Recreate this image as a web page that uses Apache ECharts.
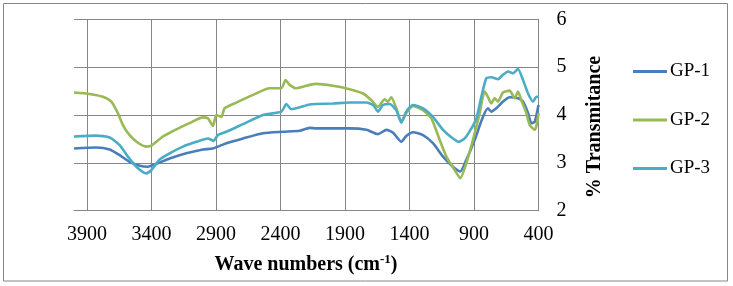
<!DOCTYPE html>
<html><head><meta charset="utf-8">
<script src="https://cdn.jsdelivr.net/npm/echarts@6/dist/echarts.min.js"></script>
<style>html,body{margin:0;padding:0;background:#fff}#c{width:733px;height:286px}</style>
</head><body><div id="c"></div>
<script>
const xTicks = [3900, 3400, 2900, 2400, 1900, 1400, 900, 400];
const yTicks = [2, 3, 4, 5, 6];
const seriesNames = ['GP-1', 'GP-2', 'GP-3'];

const gp1Wn = [4000, 3827, 3724, 3646, 3569, 3491, 3427, 3362, 3259, 3130, 3001, 2923, 2819, 2690, 2535, 2381, 2251, 2174, 2122, 1993, 1864, 1734, 1644, 1579, 1527, 1463, 1425, 1373, 1295, 1218, 1140, 1063, 1006, 960, 894, 835, 792, 766, 727, 675, 624, 559, 520, 481, 455, 429, 400];
const gp1T = [3.30, 3.32, 3.28, 3.16, 3.02, 2.94, 2.92, 2.98, 3.09, 3.20, 3.28, 3.30, 3.41, 3.51, 3.62, 3.65, 3.67, 3.73, 3.72, 3.72, 3.72, 3.69, 3.60, 3.69, 3.63, 3.44, 3.56, 3.64, 3.58, 3.41, 3.13, 2.92, 2.82, 3.06, 3.48, 3.93, 4.14, 4.07, 4.14, 4.28, 4.37, 4.35, 4.28, 4.04, 3.83, 3.86, 4.21];

const gp2Wn = [4000, 3879, 3776, 3711, 3660, 3621, 3569, 3505, 3440, 3400, 3311, 3207, 3104, 3001, 2962, 2923, 2897, 2858, 2833, 2742, 2613, 2484, 2393, 2360, 2329, 2277, 2174, 2122, 1993, 1864, 1760, 1695, 1644, 1592, 1567, 1541, 1502, 1463, 1425, 1373, 1295, 1230, 1166, 1114, 1050, 1006, 960, 908, 856, 818, 792, 766, 740, 714, 675, 624, 585, 559, 533, 494, 468, 429, 411, 400];
const gp2T = [4.47, 4.44, 4.38, 4.28, 4.04, 3.79, 3.58, 3.42, 3.34, 3.36, 3.55, 3.70, 3.83, 3.95, 3.93, 3.77, 4.00, 3.96, 4.14, 4.26, 4.42, 4.56, 4.56, 4.73, 4.63, 4.56, 4.63, 4.65, 4.61, 4.54, 4.45, 4.31, 4.17, 4.33, 4.28, 4.37, 4.14, 3.86, 4.04, 4.19, 4.10, 3.93, 3.48, 3.13, 2.85, 2.68, 2.99, 3.48, 4.04, 4.49, 4.38, 4.24, 4.35, 4.28, 4.47, 4.51, 4.35, 4.49, 4.31, 4.04, 3.79, 3.69, 3.83, 4.04];

const gp3Wn = [4000, 3827, 3724, 3646, 3582, 3517, 3440, 3400, 3336, 3259, 3156, 3052, 2962, 2918, 2885, 2819, 2690, 2535, 2393, 2354, 2316, 2174, 2122, 1993, 1864, 1734, 1682, 1644, 1605, 1553, 1502, 1463, 1425, 1373, 1295, 1218, 1140, 1063, 1017, 972, 920, 881, 843, 804, 766, 714, 675, 636, 598, 559, 520, 481, 442, 416, 400];
const gp3T = [3.55, 3.57, 3.53, 3.37, 3.13, 2.92, 2.78, 2.85, 3.07, 3.20, 3.34, 3.44, 3.51, 3.46, 3.58, 3.65, 3.81, 4.00, 4.07, 4.23, 4.12, 4.22, 4.23, 4.24, 4.26, 4.26, 4.21, 4.07, 4.21, 4.23, 4.10, 3.84, 4.07, 4.21, 4.14, 3.96, 3.69, 3.51, 3.44, 3.51, 3.72, 3.93, 4.38, 4.77, 4.79, 4.75, 4.84, 4.91, 4.87, 4.96, 4.73, 4.45, 4.28, 4.38, 4.38];

const colors = ['#4A7EBB', '#98B954', '#4BACC6'];
const pair = (xs, ys) => xs.map((x, i) => [x, ys[i]]);
const FONT = '"Liberation Serif", "Times New Roman", serif';
const GRID = '#868686';

const chart = echarts.init(document.getElementById('c'), null, {renderer: 'canvas'});
chart.setOption({
  animation: false,
  color: colors,
  textStyle: {fontFamily: FONT},
  grid: {left: 74, right: 194.5, top: 19.3, bottom: 75.3, containLabel: false},
  xAxis: {
    type: 'value', inverse: true, min: 400, max: 4000, interval: 500,
    axisLine: {show: true, lineStyle: {color: GRID, width: 1}},
    axisTick: {show: false},
    axisLabel: {color: '#000', fontSize: 20, fontFamily: FONT, margin: 14, showMaxLabel: false,
      formatter: v => xTicks.includes(v) ? String(v) : ''},
    splitLine: {show: true, showMaxLine: false, lineStyle: {color: GRID, width: 1}}
  },
  yAxis: {
    type: 'value', position: 'right', min: yTicks[0], max: yTicks[yTicks.length - 1], interval: 1,
    axisLine: {show: true, lineStyle: {color: GRID, width: 1}},
    axisTick: {show: false},
    axisLabel: {color: '#000', fontSize: 20, fontFamily: FONT, margin: 18},
    splitLine: {show: true, lineStyle: {color: GRID, width: 1}}
  },
  legend: {
    orient: 'vertical', left: 628, top: 57, itemWidth: 34, itemHeight: 3, itemGap: 29.5,
    icon: 'rect', textStyle: {fontSize: 19, fontFamily: FONT, color: '#000', padding: [0, 0, 0, -2]},
    data: seriesNames
  },
  series: [
    {name: seriesNames[0], type: 'line', data: pair(gp1Wn, gp1T), showSymbol: false, symbol: 'none', smooth: 0.2, lineStyle: {width: 2.6}},
    {name: seriesNames[1], type: 'line', data: pair(gp2Wn, gp2T), showSymbol: false, symbol: 'none', smooth: 0.2, lineStyle: {width: 2.6}},
    {name: seriesNames[2], type: 'line', data: pair(gp3Wn, gp3T), showSymbol: false, symbol: 'none', smooth: 0.2, lineStyle: {width: 2.6}}
  ],
  graphic: [
    {type: 'rect', shape: {x: 3.5, y: 3.5, width: 724, height: 277.5}, style: {fill: 'none', stroke: GRID, lineWidth: 1}, z: 0},
    {type: 'text', x: 306, y: 265, style: {
      text: '{b|Wave numbers (cm}{s|-1}{b|)}', align: 'center', verticalAlign: 'middle',
      rich: {
        b: {fontSize: 20, fontWeight: 'bold', fontFamily: FONT, color: '#000'},
        s: {fontSize: 13, fontWeight: 'bold', fontFamily: FONT, color: '#000', padding: [0, 0, 10, 0]}
      }}},
    {type: 'text', x: 595, y: 127, rotation: Math.PI / 2, style: {
      text: '% Transmitance', align: 'center', verticalAlign: 'middle',
      font: 'bold 20px ' + FONT, fill: '#000'}}
  ]
});
</script></body></html>
